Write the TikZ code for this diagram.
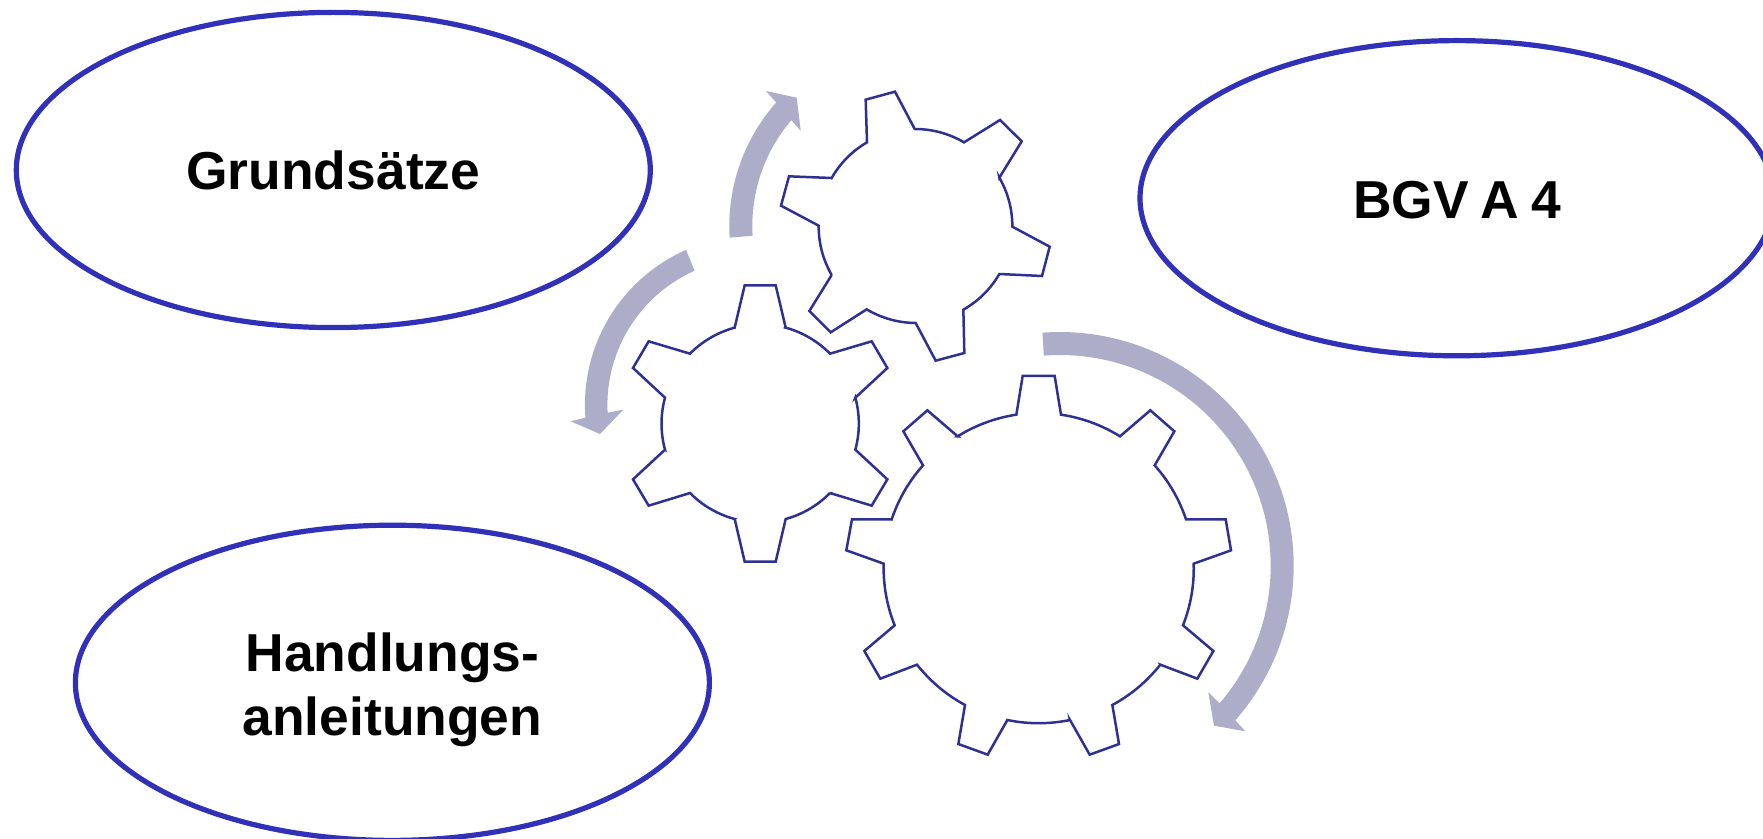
\documentclass[tikz,border=0pt]{standalone}
\usepackage{fontspec}
\setmainfont{Liberation Sans}
\usetikzlibrary{shapes.geometric}
\definecolor{ovalblue}{HTML}{3030B8}
\definecolor{gearblue}{HTML}{2E3191}
\definecolor{arrowgrey}{HTML}{ADADC9}
\tikzset{
  oval/.style={ellipse,draw=ovalblue,line width=2.6pt,inner sep=0pt,outer sep=0pt,
    minimum width=317pt,minimum height=157.6pt,align=center,text=black,
    font=\fontsize{26.7}{32}\selectfont\bfseries},
  gear/.style={draw=gearblue,line width=1.25pt,line join=miter},
  turn/.style={fill=arrowgrey,draw=none},
  z1/.style={shift={(560,70)},x=0.16667pt,y=-0.16667pt},
  z2/.style={shift={(560,270)},x=0.16667pt,y=-0.16667pt},
  z3/.style={shift={(820,320)},x=0.16667pt,y=-0.16667pt}
}
% arc of the current gear from (#1,#2) to (#3,#4): chord points pushed out to the rim, exact at both ends
\newcommand{\rimto}[4]{-- plot[domain=0:1,samples=14] ({\gcx+((#1+(#3-#1)*\x-\gcx)/veclen(#1+(#3-#1)*\x-\gcx,#2+(#4-#2)*\x-\gcy))*(veclen(#1-\gcx,#2-\gcy)*(1-\x)+veclen(#3-\gcx,#4-\gcy)*\x)},{\gcy+((#2+(#4-#2)*\x-\gcy)/veclen(#1+(#3-#1)*\x-\gcx,#2+(#4-#2)*\x-\gcy))*(veclen(#1-\gcx,#2-\gcy)*(1-\x)+veclen(#3-\gcx,#4-\gcy)*\x)})}
\begin{document}
\begin{tikzpicture}[x=0.5pt,y=-0.5pt]
\useasboundingbox (0,0) rectangle (1763,839);
\clip (0,0) rectangle (1763,839);
\fill[white] (0,0) rectangle (1763,839);

% ovals
\node[oval,text height=20pt,text depth=0pt] (grund) at (333.3,170) {Grundsätze};
\node[oval,text height=20pt,text depth=0pt] (bgv) at (1457,198.2) {\spaceskip=6pt\relax BGV A 4};
\node[oval,text height=52.2pt,text depth=0pt] (hand) at (392.4,682.8) {Handlungs-\\anleitungen};

% top-right gear
\begin{scope}[z1]
\def\gcx{1066}\def\gcy{468}
\draw[gear] (917,89) -- (1005,65) -- (1064,177) \rimto{1064}{177}{1212}{217}
 -- (1320,150) -- (1385,214) -- (1318,323) \rimto{1318}{323}{1357}{470}
 -- (1469,530) -- (1446,618) -- (1318,612) \rimto{1318}{612}{1210}{719}
 -- (1213,849) -- (1127,872) -- (1067,759) \rimto{1067}{759}{920}{718}
 -- (812,787) -- (748,723) -- (815,615) \rimto{815}{615}{776}{467}
 -- (663,407) -- (687,319) -- (815,324) \rimto{815}{324}{921}{217} -- cycle;
\end{scope}

% left gear
\begin{scope}[z2]
\def\gcx{600.5}\def\gcy{460}
\draw[gear] (554,46) -- (647,46) -- (677,173) \rimto{677}{173}{810}{251}
 -- (935,214) -- (982,294) -- (886,383) \rimto{886}{383}{886}{539}
 -- (982,628) -- (935,707) -- (810,669) \rimto{810}{669}{677}{747}
 -- (647,875) -- (554,875) -- (524,747) \rimto{524}{747}{390}{669}
 -- (266,707) -- (219,628) -- (315,539) \rimto{315}{539}{315}{383}
 -- (219,294) -- (266,214) -- (390,251) \rimto{390}{251}{524}{173} -- cycle;
\end{scope}

% large gear
\begin{scope}[z3]
\def\gcx{656}\def\gcy{745}
\draw[gear] (608,168) -- (704,168) -- (723,284) \rimto{723}{284}{900}{349}
 -- (991,271) -- (1063,334) -- (1004,436) \rimto{1004}{436}{1098}{598}
 -- (1217,598) -- (1233,691) -- (1121,731) \rimto{1121}{731}{1089}{916}
 -- (1180,993) -- (1132,1076) -- (1021,1034) \rimto{1021}{1034}{877}{1155}
 -- (897,1272) -- (809,1304) -- (750,1200) \rimto{750}{1200}{562}{1200}
 -- (503,1304) -- (415,1272) -- (435,1155) \rimto{435}{1155}{291}{1034}
 -- (181,1076) -- (133,993) -- (224,916) \rimto{224}{916}{191}{731}
 -- (79,691) -- (96,598) -- (215,598) \rimto{215}{598}{309}{436}
 -- (250,334) -- (322,271) -- (413,349) \rimto{413}{349}{589}{284} -- cycle;
\end{scope}

% rotation arrows
\fill[turn] plot[domain=176.4:221.6,samples=40] ({915.3+186*cos(\x)},{226+186*sin(\x)})
 -- (766,91) -- (796.7,97.7) -- (800.7,130.7)
 -- plot[domain=220.5:176.6,samples=40] ({915.3+163*cos(\x)},{226+163*sin(\x)}) -- cycle;
\fill[turn] plot[domain=246.2:175.7,samples=50] ({754.4+169.5*cos(\x)},{405+169.5*sin(\x)})
 -- (570.7,421.3) -- (600,434) -- (623.3,409.7)
 -- plot[domain=177:246,samples=50] ({754.4+147*cos(\x)},{405+147*sin(\x)}) -- cycle;
\fill[turn] plot[domain=-94.3:41.4,samples=90] ({1060+233.7*cos(\x)},{565.7+233.7*sin(\x)})
 -- (1245.3,731.3) -- (1214,725.7) -- (1208.3,692.3)
 -- plot[domain=40.8:-94.4,samples=90] ({1060+210.7*cos(\x)},{565.7+210.7*sin(\x)}) -- cycle;
\end{tikzpicture}
\end{document}
